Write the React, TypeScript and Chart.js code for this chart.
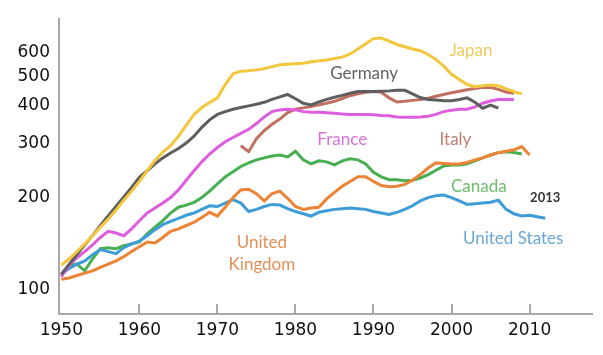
import { useEffect, useRef } from "react";
import { Chart, registerables } from "chart.js";

Chart.register(...registerables);

const YEARS = [
  1950, 1951, 1952, 1953, 1954, 1955, 1956, 1957, 1958, 1959,
  1960, 1961, 1962, 1963, 1964, 1965, 1966, 1967, 1968, 1969,
  1970, 1971, 1972, 1973, 1974, 1975, 1976, 1977, 1978, 1979,
  1980, 1981, 1982, 1983, 1984, 1985, 1986, 1987, 1988, 1989,
  1990, 1991, 1992, 1993, 1994, 1995, 1996, 1997, 1998, 1999,
  2000, 2001, 2002, 2003, 2004, 2005, 2006, 2007, 2008, 2009,
  2010, 2011, 2012,
];

const JAPAN = [
  120, 126, 133, 141, 150, 160, 170, 182, 196, 210,
  226, 245, 265, 282, 296, 318, 345, 375, 395, 410,
  425, 470, 510, 520, 522, 525, 530, 538, 546, 548,
  550, 552, 558, 562, 566, 572, 578, 592, 615, 640,
  665, 668, 652, 636, 625, 615, 607, 590, 568, 540,
  508, 488, 470, 462, 466, 468, 466, 455, 445, 438,
  null, null, null,
];

const GERMANY = [
  112, 121, 130, 140, 150, 162, 174, 187, 201, 216,
  233, 245, 258, 270, 280, 290, 302, 318, 340, 360,
  375, 383, 390, 395, 400, 405, 411, 420, 428, 436,
  422, 408, 403, 412, 420, 427, 433, 440, 446, 446,
  446, 447, 448, 450, 450, 438, 426, 420, 418, 416,
  416, 420, 425, 411, 393, 402, 393, null, null, null,
  null, null, null,
];

const FRANCE = [
  110, 120, 127, 133, 140, 148, 155, 153, 150, 158,
  168, 178, 185, 192, 200, 212, 228, 245, 262, 278,
  292, 305, 315, 325, 335, 350, 368, 383, 388, 390,
  388, 383, 381, 381, 380, 378, 376, 375, 375, 375,
  374, 372, 371, 368, 367, 367, 368, 370, 375, 383,
  387, 390, 390, 397, 408, 415, 420, 420, 420, null,
  null, null, null,
];

const ITALY = [
  null, null, null, null, null, null, null, null, null, null,
  null, null, null, null, null, null, null, null, null, null,
  null, null, null, 296, 283, 312, 332, 348, 362, 380,
  390, 394, 398, 403, 408, 414, 423, 432, 438, 443,
  446, 443, 425, 412, 414, 417, 420, 424, 430, 436,
  442, 447, 452, 456, 460, 460, 453, 444, 440, null,
  null, null, null,
];

const CANADA = [
  112, 120, 121, 115, 126, 136, 137, 136, 139, 141,
  143, 152, 160, 168, 178, 186, 189, 193, 200, 210,
  222, 234, 243, 253, 260, 266, 270, 274, 276, 272,
  284, 266, 258, 264, 262, 256, 264, 268, 266, 258,
  242, 234, 229, 229, 227, 228, 232, 238, 246, 254,
  256, 256, 258, 264, 270, 276, 281, 283, 281, 278,
  null, null, null,
];

const UK = [
  108, 109, 111, 113, 115, 118, 121, 124, 128, 133,
  138, 143, 142, 148, 155, 158, 162, 166, 172, 179,
  174, 186, 200, 212, 213, 206, 195, 206, 210, 199,
  187, 183, 185, 186, 198, 208, 218, 226, 234, 234,
  226, 219, 217, 218, 221, 228, 238, 250, 260, 259,
  258, 258, 261, 266, 270, 276, 281, 284, 287, 294,
  276, null, null,
];

const US = [
  112, 117, 121, 124, 130, 135, 133, 131, 137, 141,
  144, 150, 157, 163, 167, 171, 175, 178, 183, 188,
  187, 192, 197, 192, 180, 183, 187, 190, 189, 184,
  180, 177, 174, 179, 181, 183, 184, 185, 184, 183,
  180, 178, 176, 179, 183, 188, 195, 200, 203, 204,
  200, 195, 190, 191, 192, 193, 196, 183, 177, 174,
  175, 173, 171,
];

const X_TICKS = [1950, 1960, 1970, 1980, 1990, 2000, 2010];
const Y_TICKS = [100, 200, 300, 400, 500, 600];

const AXIS_COLOR = "#A8A8A8";

type Lbl = { text: string; year: number; value: number; color: string; font: string };

const LABELS: Lbl[] = [
  { text: "Japan", year: 2002.5, value: 606, color: "#F0C95E", font: "17px Lato" },
  { text: "Germany", year: 1988.8, value: 510, color: "#626262", font: "17px Lato" },
  { text: "France", year: 1986.0, value: 311, color: "#D872D8", font: "17px Lato" },
  { text: "Italy", year: 2000.5, value: 311, color: "#C27D72", font: "17px Lato" },
  { text: "Canada", year: 2003.5, value: 218, color: "#6CBD6C", font: "17px Lato" },
  { text: "2013", year: 2012.0, value: 199, color: "#333333", font: "bold 13px Lato" },
  { text: "United States", year: 2007.9, value: 147, color: "#6AA8D6", font: "17px Lato" },
  { text: "United", year: 1975.7, value: 142, color: "#E2905A", font: "17px Lato" },
  { text: "Kingdom", year: 1975.7, value: 121, color: "#E2905A", font: "17px Lato" },
];

const SERIES = [
  { label: "Japan", data: JAPAN, color: "#F3C63C" },
  { label: "Germany", data: GERMANY, color: "#5E5E5E" },
  { label: "France", data: FRANCE, color: "#DE5CDE" },
  { label: "Italy", data: ITALY, color: "#C06F60" },
  { label: "United Kingdom", data: UK, color: "#EC8335" },
  { label: "United States", data: US, color: "#3E9DD6" },
  { label: "Canada", data: CANADA, color: "#47AF52" },
];

const overlay = {
  id: "overlay",
  afterDraw(chart: any) {
    const ctx = chart.ctx;
    const xs = chart.scales.x;
    const ys = chart.scales.y;
    const bottom = chart.chartArea.bottom;
    ctx.save();
    ctx.strokeStyle = AXIS_COLOR;
    ctx.lineWidth = 2;
    X_TICKS.forEach((v) => {
      if (v === X_TICKS[0]) return;
      const px = Math.round(xs.getPixelForValue(v));
      ctx.beginPath();
      ctx.moveTo(px, bottom);
      ctx.lineTo(px, bottom - 10);
      ctx.stroke();
    });
    ctx.textAlign = "center";
    ctx.textBaseline = "middle";
    LABELS.forEach((l) => {
      ctx.font = l.font;
      ctx.fillStyle = l.color;
      ctx.fillText(l.text, xs.getPixelForValue(l.year), ys.getPixelForValue(l.value));
    });
    ctx.restore();
  },
};

export default function App() {
  const ref = useRef<HTMLCanvasElement | null>(null);

  useEffect(() => {
    if (!ref.current) return;
    const chart = new Chart(ref.current, {
      type: "line",
      data: {
        datasets: SERIES.map((s) => ({
          label: s.label,
          data: YEARS.map((y, i) => ({ x: y, y: s.data[i] as any })),
          borderColor: s.color,
          backgroundColor: s.color,
          borderWidth: 3,
          pointRadius: 0,
          tension: 0,
          spanGaps: false,
        })),
      },
      options: {
        responsive: false,
        animation: false,
        layout: { padding: { top: 16, right: 11, left: 0, bottom: 0 } },
        plugins: { legend: { display: false }, tooltip: { enabled: false } },
        scales: {
          x: {
            type: "linear",
            min: 1949.7,
            max: 2018,
            afterBuildTicks: (s: any) => {
              s.ticks = X_TICKS.map((v) => ({ value: v }));
            },
            afterFit: (s: any) => {
              s.height = 41;
            },
            grid: { display: false, drawTicks: false },
            border: { display: true, color: AXIS_COLOR, width: 2 },
            ticks: {
              color: "#111",
              padding: 6,
              maxRotation: 0,
              autoSkip: false,
              font: { family: "DejaVu Sans", size: 17 },
              callback: (v: any) => String(v),
            },
          },
          y: {
            type: "logarithmic",
            min: 83,
            max: 770,
            afterBuildTicks: (s: any) => {
              s.ticks = Y_TICKS.map((v) => ({ value: v }));
            },
            afterFit: (s: any) => {
              s.width = 59;
            },
            grid: { display: false, drawTicks: false },
            border: { display: true, color: AXIS_COLOR, width: 2 },
            ticks: {
              color: "#111",
              padding: 9,
              autoSkip: false,
              font: { family: "DejaVu Sans", size: 17 },
              callback: (v: any) => String(v),
            },
          },
        },
      },
      plugins: [overlay],
    });
    return () => chart.destroy();
  }, []);

  return (
    <div style={{ position: "fixed", left: 0, top: 0, width: 603, height: 355, background: "#fff" }}>
      <canvas ref={ref} width={603} height={355} style={{ width: 603, height: 355 }} />
    </div>
  );
}
